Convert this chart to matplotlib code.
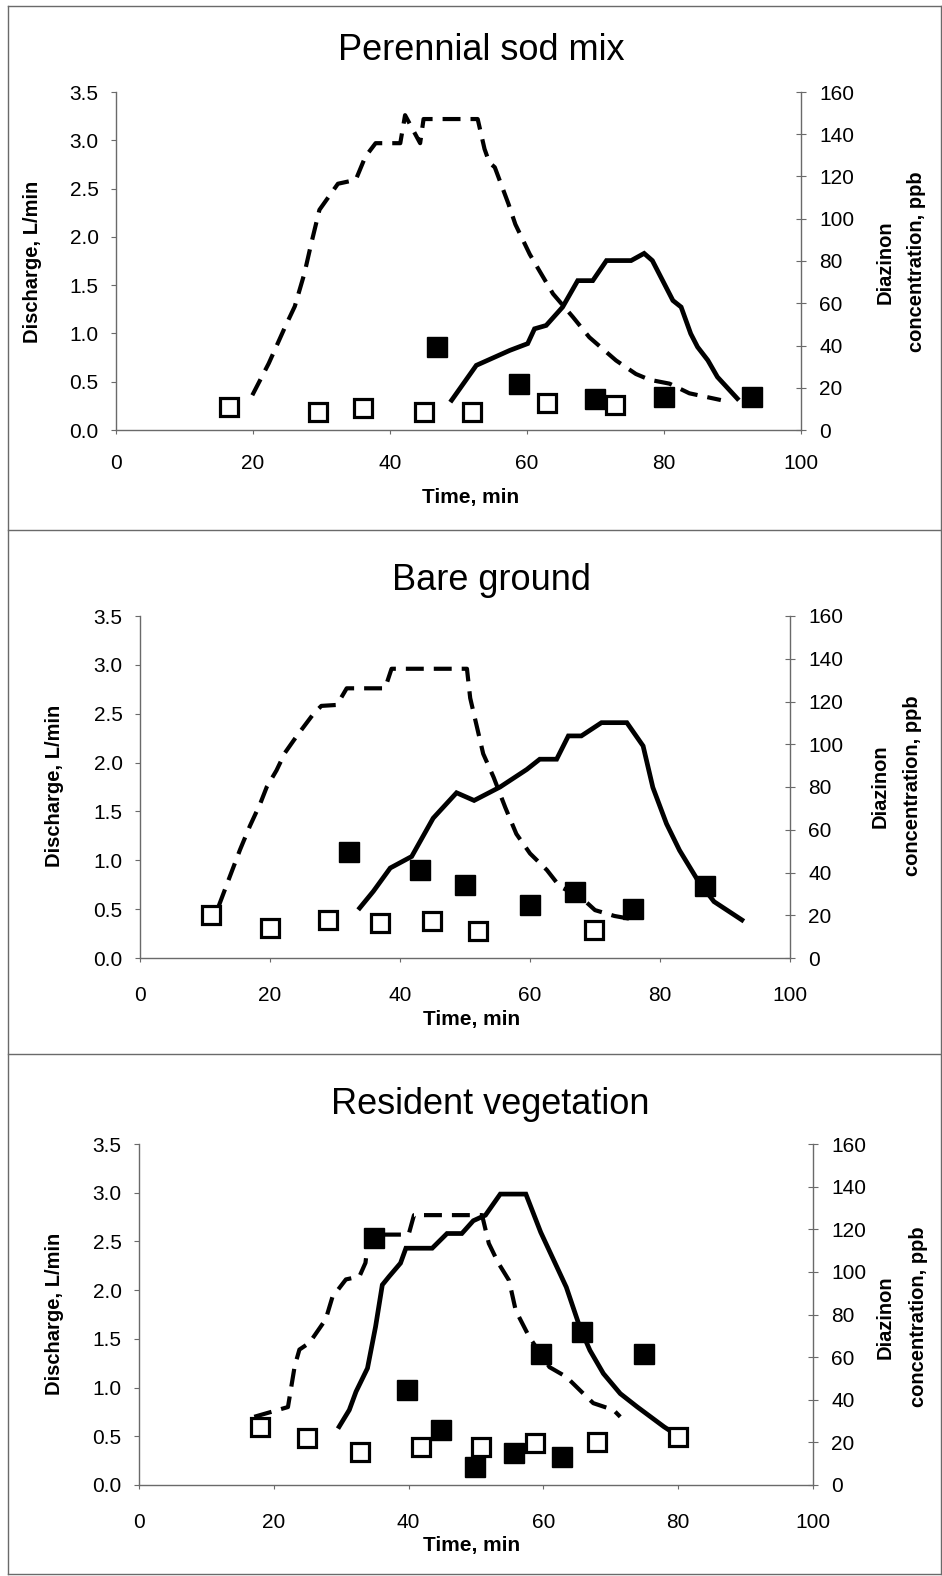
import matplotlib
matplotlib.use("Agg")
import matplotlib.pyplot as plt
from matplotlib.lines import Line2D

plt.rcParams['font.family'] = ['Liberation Sans', 'DejaVu Sans']

W, H = 942, 1576

titles = ["Perennial sod mix", "Bare ground", "Resident vegetation"]
x_ticks = [0, 20, 40, 60, 80, 100]
q_ticks = [0.0, 0.5, 1.0, 1.5, 2.0, 2.5, 3.0, 3.5]
c_ticks = [0, 20, 40, 60, 80, 100, 120, 140, 160]

# perennial sod mix
sod_dash_t = [19.9, 22.3, 24.7, 26.1, 27.5, 28.5, 29.7, 32.4, 35.0, 36.4, 37.9, 41.5, 42.2, 44.4, 44.9,
              52.8, 53.8, 54.5, 55.3, 57.3, 58.3, 60.4, 61.8, 63.8, 66.7, 69.1, 73.0, 75.9, 77.9, 80.8, 83.7, 88.3]
sod_dash_q = [0.36, 0.69, 1.07, 1.28, 1.62, 1.93, 2.28, 2.55, 2.59, 2.83, 2.97, 2.97, 3.26, 2.97, 3.22,
              3.22, 2.91, 2.77, 2.72, 2.34, 2.13, 1.82, 1.65, 1.41, 1.17, 0.96, 0.72, 0.58, 0.52, 0.48, 0.38, 0.31]
sod_solid_t = [49.0, 52.6, 57.5, 60.1, 61.1, 62.8, 65.2, 67.4, 69.6, 71.6, 75.2, 77.1, 78.3, 80.3, 81.3,
               82.5, 83.9, 84.9, 86.4, 87.8, 90.7]
sod_solid_c = [14.1, 30.6, 37.7, 40.9, 47.9, 49.5, 58.2, 70.7, 70.7, 80.2, 80.2, 83.6, 80.2, 67.6, 61.3,
               58.2, 45.6, 39.3, 33.0, 25.1, 14.9]
sod_fill_t = [46.8, 58.9, 69.9, 80.0, 92.9]
sod_fill_c = [39.4, 22.0, 14.9, 15.7, 15.7]
sod_open_t = [16.5, 29.5, 36.0, 44.9, 51.9, 62.9, 72.9]
sod_open_c = [11.0, 8.7, 10.2, 8.7, 8.4, 12.6, 11.8]

# bare ground
bare_dash_t = [12.1, 13.8, 15.4, 16.9, 18.5, 19.5, 21.0, 22.3, 24.1, 26.7, 27.9, 30.3, 31.8, 37.7, 38.7,
               50.3, 50.8, 52.8, 54.4, 56.2, 57.9, 60.0, 62.6, 64.6, 67.7, 70.0, 73.0, 75.5]
bare_dash_q = [0.53, 0.83, 1.11, 1.35, 1.58, 1.75, 1.92, 2.10, 2.27, 2.50, 2.58, 2.59, 2.76, 2.76, 2.96,
               2.96, 2.66, 2.09, 1.85, 1.54, 1.27, 1.07, 0.90, 0.73, 0.63, 0.49, 0.43, 0.40]
bare_solid_t = [33.8, 35.9, 38.5, 41.8, 45.1, 48.7, 51.4, 55.4, 59.5, 61.5, 64.1, 65.9, 67.9, 71.0, 74.9,
                77.4, 78.9, 81.0, 83.0, 85.8, 88.3, 92.6]
bare_solid_c = [23.4, 31.2, 42.1, 47.5, 65.4, 77.3, 73.7, 80.0, 88.2, 93.0, 93.0, 103.9, 103.9, 110.1, 110.1,
                99.2, 79.8, 62.8, 50.4, 36.4, 26.4, 17.8]
bare_fill_t = [32.1, 43.1, 50.0, 60.0, 66.9, 75.9, 86.9]
bare_fill_c = [49.8, 41.3, 34.2, 24.8, 31.0, 22.8, 33.6]
bare_open_t = [10.9, 20.0, 29.0, 37.0, 45.0, 52.0, 69.9]
bare_open_c = [20.2, 14.0, 17.9, 16.4, 17.1, 12.5, 13.2]

# resident vegetation
res_dash_t = [17.1, 22.1, 23.1, 23.8, 25.3, 27.7, 28.7, 30.7, 32.7, 33.6, 34.1, 40.0, 40.8, 50.9, 51.9,
              53.3, 54.9, 55.9, 57.9, 60.9, 63.4, 65.9, 67.4, 70.4, 71.4]
res_dash_q = [0.70, 0.80, 1.22, 1.39, 1.46, 1.70, 1.93, 2.11, 2.14, 2.28, 2.57, 2.57, 2.77, 2.77, 2.48,
              2.28, 2.10, 1.79, 1.52, 1.21, 1.11, 0.94, 0.84, 0.77, 0.70]
res_solid_t = [29.7, 31.2, 32.2, 33.9, 35.1, 36.1, 37.1, 38.8, 39.6, 43.5, 45.7, 47.9, 49.6, 51.4, 53.6,
               57.4, 59.6, 63.4, 65.4, 66.9, 68.9, 71.4, 73.9, 77.9, 79.5]
res_solid_c = [27.4, 35.2, 43.8, 54.8, 74.3, 93.9, 97.8, 104.1, 111.1, 111.1, 118.0, 118.0, 124.0, 126.6, 136.5,
               136.5, 118.6, 92.8, 74.1, 63.2, 52.3, 42.9, 36.7, 27.3, 24.0]
res_fill_t = [34.8, 39.8, 44.8, 49.8, 55.7, 59.6, 62.8, 65.8, 74.9]
res_fill_c = [115.8, 44.6, 25.8, 8.6, 15.0, 61.6, 13.3, 71.8, 61.6]
res_open_t = [17.9, 24.9, 32.8, 41.8, 50.8, 58.8, 67.9, 80.0]
res_open_c = [27.4, 21.9, 15.7, 18.0, 17.9, 19.5, 20.0, 22.6]


def fx(x):
    return x / W


def fy(y):
    return 1 - y / H


def draw_panel(fig, box, title, dash, solid, filled, opened, lay):
    left, right, top, bottom = box
    ax = fig.add_axes([fx(left), fy(bottom), (right - left) / W, (bottom - top) / H])
    ax2 = ax.twinx()
    ax.set_xlim(0, 100)
    ax.set_ylim(0, 3.5)
    ax2.set_ylim(0, 160)
    ax.set_xticks(x_ticks)
    ax.set_yticks(q_ticks)
    ax.set_yticklabels(["%.1f" % v for v in q_ticks])
    ax2.set_yticks(c_ticks)
    for a in (ax, ax2):
        a.set_facecolor('none')
        a.spines['top'].set_visible(False)
        for s in ('left', 'right', 'bottom'):
            a.spines[s].set_color('#6a6a6a')
            a.spines[s].set_linewidth(1.0)
    ax.spines['right'].set_visible(False)
    ax2.spines['left'].set_visible(False)
    ax2.spines['bottom'].set_visible(False)
    ax.tick_params(axis='y', direction='out', length=3.5, width=0.8, color='#6a6a6a', pad=9, labelsize=15)
    ax.tick_params(axis='x', direction='out', length=3, width=0.8, color='#6a6a6a', pad=lay['xpad'], labelsize=15)
    ax2.tick_params(axis='y', direction='inout', length=7, width=0.8, color='#6a6a6a', pad=9.5, labelsize=15)

    ax.plot(dash[0], dash[1], color='black', lw=3.0, linestyle=(0, (4.3, 2.4)), clip_on=False, zorder=2)
    ax2.plot(solid[0], solid[1], color='black', lw=3.4, solid_joinstyle='miter', clip_on=False, zorder=2)
    ax2.plot(filled[0], filled[1], linestyle='none', marker='s', ms=14, mfc='black', mec='black', mew=1,
             clip_on=False, zorder=3)
    ax2.plot(opened[0], opened[1], linestyle='none', marker='s', ms=12.5, mfc='white', mec='black', mew=2.3,
             clip_on=False, zorder=4)

    fig.text(fx(lay['title'][0]), fy(lay['title'][1]), title, fontsize=26, ha='center', va='center')
    fig.text(fx(lay['xlab'][0]), fy(lay['xlab'][1]), "Time, min", fontsize=15, fontweight='bold',
             ha='center', va='center')
    fig.text(fx(lay['ylab'][0]), fy(lay['ylab'][1]), "Discharge, L/min", fontsize=14.5, fontweight='bold',
             rotation=90, ha='center', va='center')
    fig.text(fx(lay['rlab'][0]), fy(lay['rlab'][2]), "Diazinon", fontsize=14.5, fontweight='bold',
             rotation=90, ha='center', va='center')
    fig.text(fx(lay['rlab'][1]), fy(lay['rlab'][2]), "concentration, ppb", fontsize=14.5, fontweight='bold',
             rotation=90, ha='center', va='center')


def main():
    fig = plt.figure(figsize=(W / 100, H / 100), dpi=100)

    # panel frames
    frame = dict(color='#6a6a6a', lw=1.0, transform=fig.transFigure)
    for y in (6, 530, 1054, 1574):
        fig.add_artist(Line2D([fx(8), fx(941)], [fy(y), fy(y)], **frame))
    fig.add_artist(Line2D([fx(8), fx(8)], [fy(6), fy(1574)], **frame))
    fig.add_artist(Line2D([fx(941), fx(941)], [fy(6), fy(1574)], **frame))

    boxes = [(116, 801, 92, 430), (140, 790, 616, 958), (139, 813, 1144, 1485)]
    layouts = [
        dict(xpad=14, title=(481, 50), xlab=(471, 497), ylab=(33, 262), rlab=(885, 917, 262)),
        dict(xpad=17, title=(491, 580), xlab=(472, 1020), ylab=(55, 786), rlab=(880, 913, 786)),
        dict(xpad=17, title=(490, 1105), xlab=(472, 1546), ylab=(55, 1314), rlab=(885, 918, 1317)),
    ]
    series = [
        ((sod_dash_t, sod_dash_q), (sod_solid_t, sod_solid_c), (sod_fill_t, sod_fill_c), (sod_open_t, sod_open_c)),
        ((bare_dash_t, bare_dash_q), (bare_solid_t, bare_solid_c), (bare_fill_t, bare_fill_c), (bare_open_t, bare_open_c)),
        ((res_dash_t, res_dash_q), (res_solid_t, res_solid_c), (res_fill_t, res_fill_c), (res_open_t, res_open_c)),
    ]
    for box, title, s, lay in zip(boxes, titles, series, layouts):
        draw_panel(fig, box, title, s[0], s[1], s[2], s[3], lay)

    fig.savefig("out.png", dpi=100)


if __name__ == "__main__":
    main()
